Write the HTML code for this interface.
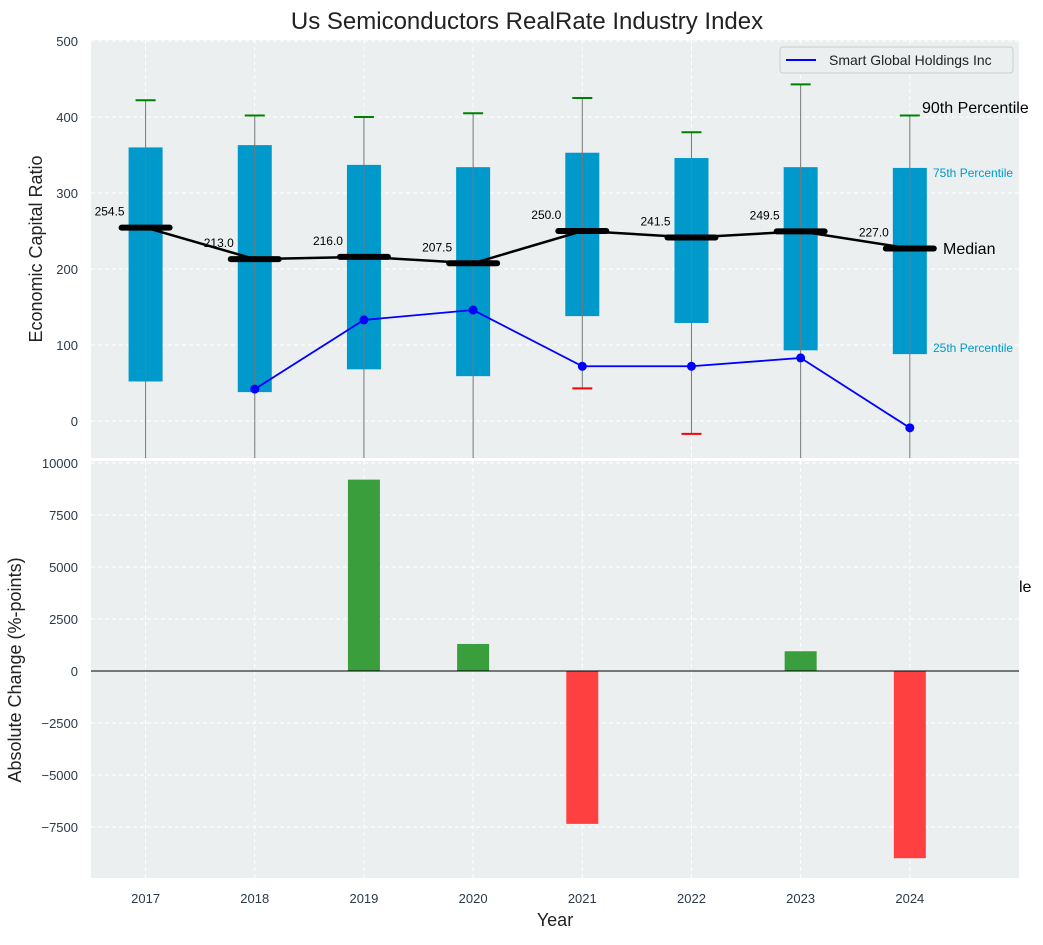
<!DOCTYPE html>
<html><head><meta charset="utf-8"><style>
body{margin:0;background:#fff;font-family:"Liberation Sans",sans-serif}
svg text{font-family:"Liberation Sans",sans-serif}
</style></head><body>
<svg id="c" width="1043" height="940" xmlns="http://www.w3.org/2000/svg"></svg>
<script>
const years=[2017,2018,2019,2020,2021,2022,2023,2024];
const q1=[52,38,68,59,138,129,93,88];
const q3=[360,363,337,334,353,346,334,333];
const med=[254.5,213.0,216.0,207.5,250.0,241.5,249.5,227.0];
const p90=[422,402,400,405,425,380,443,402];
const p10=[-90,-90,-90,-90,43,-17,-90,-90];
const sgYears=[2018,2019,2020,2021,2022,2023,2024];
const sgVals=[42,133,146,72,72,83,-9];
const chg=[0,0,9200,1300,-7350,0,950,-9000];
const topTicks=[0,100,200,300,400,500];
const botTicks=[-7500,-5000,-2500,0,2500,5000,7500,10000];

const svgRoot=document.getElementById('c');const NS='http://www.w3.org/2000/svg';
function el(t,a,p){const e=document.createElementNS(NS,t);for(const k in a)e.setAttribute(k,a[k]);(p||svgRoot).appendChild(e);return e;}
const L=91,R=1019;
const xS=v=>L+(v-2016.5)/(2025-2016.5)*(R-L);
const yT=v=>421-v*0.76;
const yB=v=>671-v*52/2500;
const T1=40,B1=458,T2=461,B2=878;
const fmt=v=>v<0?'\u2212'+Math.abs(v):String(v);
let g;
g=el('rect',{x:L,y:T1,width:R-L,height:B1-T1,fill:'#ebeff0'});

g=el('rect',{x:L,y:T2,width:R-L,height:B2-T2,fill:'#ebeff0'});

const grid={stroke:'#fff','stroke-dasharray':'4,3','stroke-width':1};
years.forEach(yr=>{el('line',Object.assign({x1:xS(yr),x2:xS(yr),y1:T1,y2:B1},grid));el('line',Object.assign({x1:xS(yr),x2:xS(yr),y1:T2,y2:B2},grid));
 const t=el('text',{x:xS(yr),y:903,'text-anchor':'middle','font-size':13,fill:'#2a3a4a'});t.textContent=yr;
 });
topTicks.forEach(v=>{el('line',Object.assign({x1:L,x2:R,y1:yT(v),y2:yT(v)},grid));
 const t=el('text',{x:78,y:yT(v)+5,'text-anchor':'end','font-size':13,fill:'#2a3a4a'});t.textContent=fmt(v);
 });
botTicks.forEach(v=>{el('line',Object.assign({x1:L,x2:R,y1:yB(v),y2:yB(v)},grid));
 const t=el('text',{x:78,y:yB(v)+5,'text-anchor':'end','font-size':13,fill:'#2a3a4a'});t.textContent=fmt(v);
 });
const clipT=el('clipPath',{id:'ct'});el('rect',{x:L,y:T1,width:R-L,height:B1-T1},clipT);
const topG=el('g',{'clip-path':'url(#ct)'});


const bw=34;
years.forEach((yr,i)=>{const cx=xS(yr);
 const b=el('rect',{x:cx-bw/2,y:yT(q3[i]),width:bw,height:yT(q1[i])-yT(q3[i]),fill:'#0099cc'},topG);
 
 
 el('line',{x1:cx,x2:cx,y1:yT(p90[i]),y2:yT(p10[i]),stroke:'#777','stroke-width':1},topG);
 el('line',{x1:cx-10,x2:cx+10,y1:yT(p90[i]),y2:yT(p90[i]),stroke:'green','stroke-width':2},topG);
 el('line',{x1:cx-10,x2:cx+10,y1:yT(p10[i]),y2:yT(p10[i]),stroke:'red','stroke-width':2},topG);
});
const ml=el('polyline',{points:years.map((yr,i)=>xS(yr)+','+yT(med[i])).join(' '),fill:'none',stroke:'#000','stroke-width':2.5},topG);


years.forEach((yr,i)=>{const cx=xS(yr);
 const m=el('line',{x1:cx-24,x2:cx+24,y1:yT(med[i]),y2:yT(med[i]),stroke:'#000','stroke-width':6,'stroke-linecap':'round'},topG);
 
 
 const t=el('text',{x:cx-51,y:yT(med[i])-12,'font-size':12,fill:'#000'},topG);t.textContent=med[i].toFixed(1);
 
 
});
const sl=el('polyline',{points:sgYears.map((yr,i)=>xS(yr)+','+yT(sgVals[i])).join(' '),fill:'none',stroke:'blue','stroke-width':1.8},topG);


sgYears.forEach((yr,i)=>{const c=el('circle',{cx:xS(yr),cy:yT(sgVals[i]),r:4.5,fill:'blue'},topG);
 
 });
chg.forEach((v,i)=>{if(!v)return;const y0=yB(0),y1=yB(v);
 const r=el('rect',{x:xS(years[i])-16,y:Math.min(y0,y1),width:32,height:Math.abs(y1-y0),fill:v>0?'#3a9e3c':'#ff4040'});
 
 });
el('line',{x1:L,x2:R,y1:yB(0),y2:yB(0),stroke:'#000','stroke-width':1});
function txt(s,a,name){const t=el('text',a);t.textContent=s;
 
 return t;}
txt('Us Semiconductors RealRate Industry Index',{x:527,y:29,'text-anchor':'middle','font-size':24,fill:'#222'},'chart-title');
txt('Economic Capital Ratio',{x:0,y:0,transform:'translate(42,249) rotate(-90)','text-anchor':'middle','font-size':18,fill:'#222'},'top-y-axis-title');
txt('Absolute Change (%-points)',{x:0,y:0,transform:'translate(21,670) rotate(-90)','text-anchor':'middle','font-size':18,fill:'#222'},'bottom-y-axis-title');
txt('Year',{x:555,y:926,'text-anchor':'middle','font-size':18,fill:'#222'},'x-axis-title');
txt('90th Percentile',{x:922,y:113,'font-size':16,fill:'#000'},'p90-label');
txt('75th Percentile',{x:933,y:177,'font-size':12,fill:'#0099cc'},'p75-label');
txt('Median',{x:943,y:254,'font-size':16,fill:'#000'},'median-annotation');
txt('25th Percentile',{x:933,y:352,'font-size':12,fill:'#0099cc'},'p25-label');
txt('le',{x:1019,y:592,'font-size':16,fill:'#000'},'clipped-label');
const lg=el('g',{});


el('rect',{x:780,y:47,width:233,height:26,rx:3,fill:'#ebeff0',stroke:'#ccc'},lg);
el('line',{x1:786,x2:816,y1:60,y2:60,stroke:'blue','stroke-width':2},lg);
const lt=el('text',{x:829,y:65,'font-size':14,fill:'#222'},lg);lt.textContent='Smart Global Holdings Inc';
</script>
</body></html>
